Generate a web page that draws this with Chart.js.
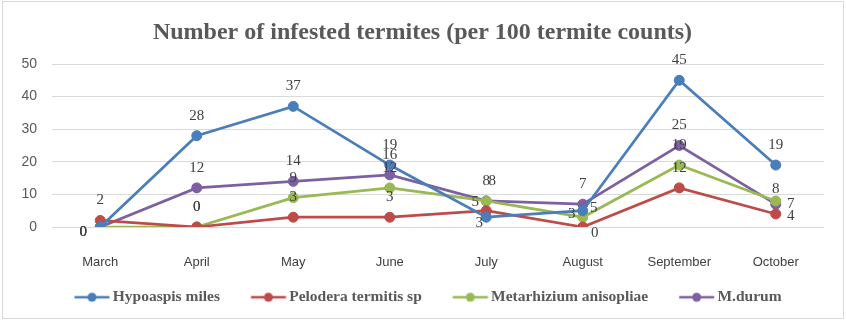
<!DOCTYPE html><html lang="en">
<head>
  <meta charset="UTF-8"/>
  <title>Number of infested termites</title>
  <script src="https://cdn.jsdelivr.net/npm/chart.js"></script>
  <style>
    *{box-sizing:border-box;margin:0;padding:0}
    body{background:#fff;width:846px;height:322px;overflow:hidden}
    #wrap{position:relative;width:846px;height:322px}
  </style>
</head>
<body>
  <div id="wrap"><canvas id="chart" width="846" height="322"></canvas></div>
  <script>
    // chart data
    const months = ['March','April','May','June','July','August','September','October'];
    const seriesNames = ['Hypoaspis miles','Pelodera termitis sp','Metarhizium anisopliae','M.durum'];
    const hypoaspis   = [0, 28, 37, 19, 3, 5, 45, 19];
    const pelodera    = [2, 0, 3, 3, 5, 0, 12, 4];
    const metarhizium = [0, 0, 9, 12, 8, 3, 19, 8];
    const mdurum      = [0, 12, 14, 16, 8, 7, 25, 7];
    const yTicks = [0, 10, 20, 30, 40, 50];

    const colors = ['#4a7ebb','#be4b48','#98b954','#7d60a0'];

    // where each value label sits relative to its point
    const labelPlace = [
      ['ll','t','t','t','bl','r','t','t'],
      ['t','t','t','t','tl','br','t','r2'],
      ['ll','t','t','t','t2','l','t','ts'],
      ['ll','t','t','t','t','t','t','r3']
    ];
    const placeOffset = {
      t:[0,-20], t2:[6,-20], ts:[0,-12], l:[-11,-3], ll:[-17,5], tl:[-11,-9],
      bl:[-7,6], r:[11,-3], r2:[15,2], r3:[15,0], br:[12,6]
    };

    // legend marker: short line with a dot, shifted right inside a 41.5px box
    function legendMarker(color){
      const c = document.createElement('canvas');
      c.width = 52; c.height = 12;
      const g = c.getContext('2d');
      g.strokeStyle = color; g.lineWidth = 2.5;
      g.beginPath(); g.moveTo(16.25, 6); g.lineTo(51.25, 6); g.stroke();
      g.fillStyle = color;
      g.beginPath(); g.arc(33.75, 6, 4.5, 0, Math.PI*2); g.fill();
      return c;
    }

    const frame = {
      id:'frame',
      beforeDraw(chart){
        const ctx = chart.ctx;
        ctx.save();
        ctx.fillStyle = '#fff';
        ctx.fillRect(0,0,chart.width,chart.height);
        ctx.strokeStyle = '#d9d9d9'; ctx.lineWidth = 1;
        ctx.strokeRect(2.5,1.5,chart.width-5,chart.height-5);
        ctx.restore();
      }
    };

    const valueLabels = {
      id:'valueLabels',
      afterDatasetsDraw(chart){
        const ctx = chart.ctx;
        ctx.save();
        ctx.font = '15px "Liberation Serif", serif';
        ctx.fillStyle = '#404040';
        ctx.textAlign = 'center'; ctx.textBaseline = 'middle';
        chart.data.datasets.forEach((ds, i) => {
          const meta = chart.getDatasetMeta(i);
          meta.data.forEach((pt, j) => {
            const off = placeOffset[labelPlace[i][j]];
            ctx.fillText(String(ds.data[j]), pt.x + off[0], pt.y + off[1]);
          });
        });
        ctx.restore();
      }
    };

    const allSeries = [hypoaspis, pelodera, metarhizium, mdurum];
    const datasets = allSeries.map((vals, i) => ({
      label: seriesNames[i],
      data: vals,
      borderColor: colors[i],
      backgroundColor: colors[i],
      borderWidth: 2.75,
      pointRadius: 5,
      pointBorderWidth: 1,
      pointBackgroundColor: colors[i],
      pointBorderColor: colors[i],
      tension: 0
    }));

    new Chart(document.getElementById('chart'), {
      type:'line',
      data:{ labels: months, datasets },
      options:{
        responsive:false,
        animation:false,
        layout:{ padding:{ left:21, right:22, top:0, bottom:7 } },
        plugins:{
          title:{
            display:true,
            text:'Number of infested termites (per 100 termite counts)',
            color:'#595959',
            font:{ family:'"Liberation Serif", serif', size:24, weight:'bold', lineHeight:1.2 },
            padding:{ top:18, bottom:17.2 }
          },
          legend:{
            position:'bottom',
            labels:{
              usePointStyle:true,
              pointStyleWidth:41.5,
              padding:20,
              color:'#595959',
              font:{ family:'"Liberation Serif", serif', size:15.5, weight:'bold' },
              generateLabels(chart){
                return chart.data.datasets.map((ds, i) => ({
                  text: ds.label,
                  pointStyle: legendMarker(colors[i]),
                  fillStyle: colors[i],
                  strokeStyle: colors[i],
                  fontColor:'#595959',
                  lineWidth: 0,
                  hidden: false,
                  datasetIndex: i
                }));
              }
            }
          },
          tooltip:{ enabled:false }
        },
        scales:{
          x:{
            offset:true,
            grid:{ display:false, drawTicks:false },
            border:{ display:false },
            ticks:{
              color:'#404040',
              font:{ family:'"Liberation Sans", sans-serif', size:13 },
              padding:27.5,
              maxRotation:0,
              autoSkip:false
            },
            afterFit(scale){ scale.height = 42.5; }
          },
          y:{
            min:0, max:50,
            grid:{ color:'#d9d9d9', drawTicks:false, lineWidth:1 },
            border:{ display:false },
            ticks:{
              color:'#595959',
              font:{ family:'"Liberation Sans", sans-serif', size:14 },
              padding:15,
              stepSize:10,
              callback:(v) => yTicks.includes(v) ? String(v) : ''
            },
            afterFit(scale){ scale.width = 31; }
          }
        }
      },
      plugins:[frame, valueLabels]
    });
  </script>
</body>
</html>
